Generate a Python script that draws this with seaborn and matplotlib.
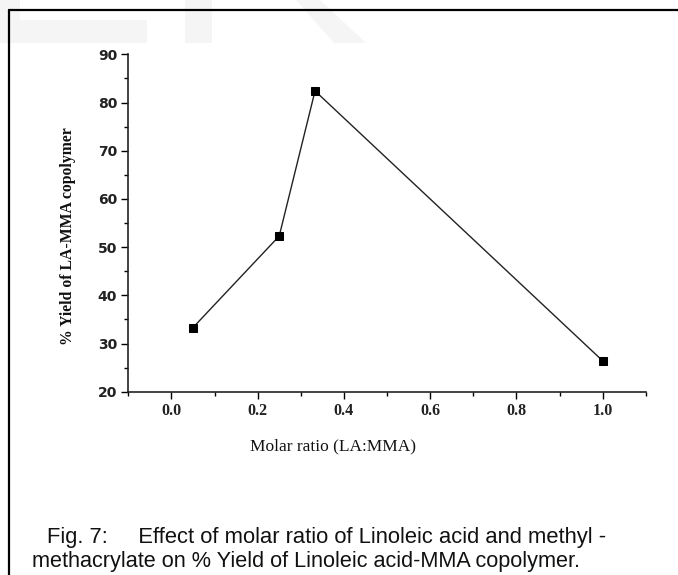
import matplotlib
matplotlib.use("Agg")
import matplotlib.pyplot as plt
import seaborn as sns
import pandas as pd
from matplotlib.patches import Polygon
from matplotlib.lines import Line2D
from matplotlib.ticker import MultipleLocator

# Data
molar_ratio = [0.05, 0.25, 0.333, 1.0]
yield_pct = [33.3, 52.3, 82.4, 26.4]
x_ticks = [0.0, 0.2, 0.4, 0.6, 0.8, 1.0]
y_ticks = [20, 30, 40, 50, 60, 70, 80, 90]

df = pd.DataFrame({"ratio": molar_ratio, "yield": yield_pct})

sns.set_style("white")
W, H = 678, 575
fig = plt.figure(figsize=(W / 100, H / 100), dpi=100)

def fx(px):
    return px / W
def fy(py):
    return 1 - py / H

# faint watermark shapes
gray = "#f5f5f5"
fig.patches.append(Polygon([(fx(0), fy(0)), (fx(20), fy(0)), (fx(20), fy(20)), (fx(147), fy(20)),
                            (fx(147), fy(43)), (fx(0), fy(43))], closed=True,
                           transform=fig.transFigure, facecolor=gray, edgecolor="none", zorder=0))
fig.patches.append(Polygon([(fx(185), fy(0)), (fx(212), fy(0)), (fx(212), fy(43)), (fx(185), fy(43))],
                           closed=True, transform=fig.transFigure, facecolor=gray, edgecolor="none", zorder=0))
fig.patches.append(Polygon([(fx(296), fy(0)), (fx(320), fy(0)), (fx(366), fy(43)), (fx(334), fy(43))],
                           closed=True, transform=fig.transFigure, facecolor=gray, edgecolor="none", zorder=0))

# caption box border (top and left lines)
fig.lines.append(Line2D([fx(9), fx(9)], [fy(10), 0], transform=fig.transFigure, color="black", lw=1.6))
fig.lines.append(Line2D([fx(9), 1], [fy(10), fy(10)], transform=fig.transFigure, color="black", lw=1.6))

ax = fig.add_axes([128.3 / W, 1 - 391.7 / H, (645.8 - 128.3) / W, (391.7 - 54.3) / H])
ax.set_facecolor("none")

sns.lineplot(data=df, x="ratio", y="yield", ax=ax, color="#222222", lw=1.0,
             marker="s", markersize=6, markerfacecolor="black", markeredgecolor="black",
             sort=False)

ax.set_xlim(-0.1, 1.1)
ax.set_ylim(20, 90)
ax.set_xticks(x_ticks)
ax.set_xticklabels([f"{v:.1f}" for v in x_ticks])
ax.set_yticks(y_ticks)
ax.set_yticklabels([str(v) for v in y_ticks])
ax.xaxis.set_minor_locator(MultipleLocator(0.1))
ax.yaxis.set_minor_locator(MultipleLocator(5))
ax.tick_params(axis="both", which="major", direction="out", length=5, width=1, color="black",
               bottom=True, left=True, labelsize=10, pad=3)
ax.tick_params(axis="both", which="minor", direction="out", length=3, width=1, color="black",
               bottom=True, left=True)
for lab in ax.get_yticklabels():
    lab.set_family(["DejaVu Sans"])
    lab.set_fontweight("bold")
    lab.set_color("#222222")
for lab in ax.get_xticklabels():
    lab.set_family(["Liberation Serif"])
    lab.set_fontweight("bold")
    lab.set_fontsize(11.5)
    lab.set_color("#222222")

for s in ["top", "right"]:
    ax.spines[s].set_visible(False)
for s in ["left", "bottom"]:
    ax.spines[s].set_color("#222222")
    ax.spines[s].set_linewidth(1.2)

ax.set_xlabel("")
ax.set_ylabel("")

fig.text(fx(333), fy(446), "Molar ratio (LA:MMA)", ha="center", va="center",
         family=["Liberation Serif"], fontsize=12.5, color="#111111")
fig.text(fx(68), fy(236), "% Yield of LA-MMA copolymer", ha="center", va="center", rotation=90,
         family=["Liberation Serif"], fontweight="bold", fontsize=11.3, color="#111111")

fig.text(fx(47), fy(537), "Fig. 7:     Effect of molar ratio of Linoleic acid and methyl -",
         ha="left", va="center", family=["Liberation Sans"], fontsize=15.8, color="#111111")
fig.text(fx(32), fy(561), "methacrylate on % Yield of Linoleic acid-MMA copolymer.",
         ha="left", va="center", family=["Liberation Sans"], fontsize=15.6, color="#111111")

fig.savefig("out.png", dpi=100)
